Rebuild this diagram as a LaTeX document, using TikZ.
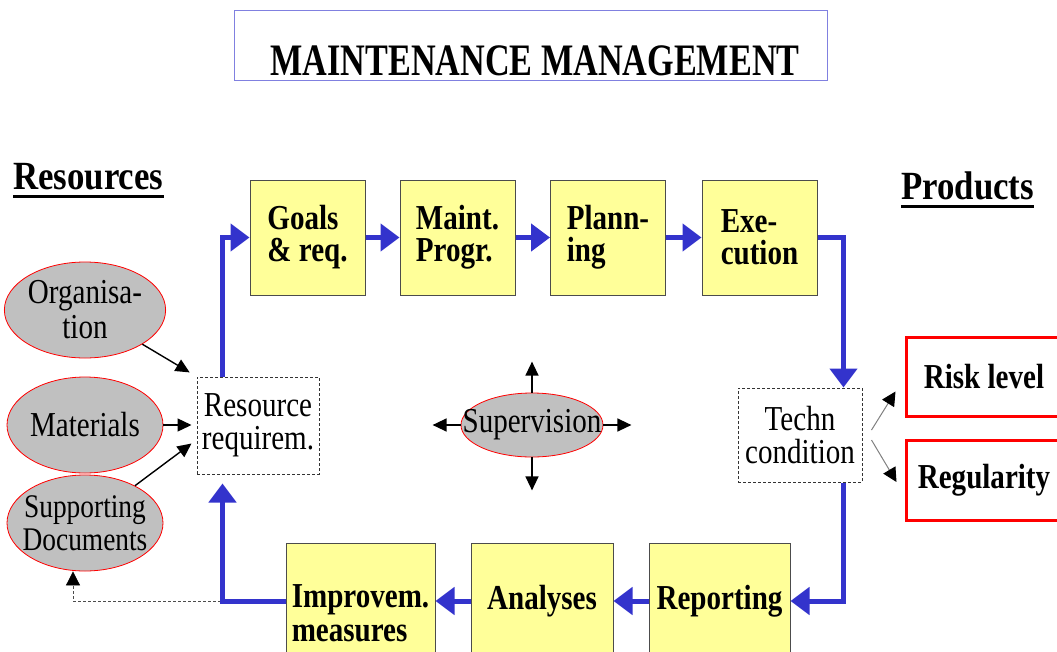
\documentclass[tikz,border=0pt]{standalone}
\usepackage{fontspec}
\setmainfont{Liberation Serif}[FakeStretch=0.83]
\newfontfamily\headfont{Liberation Serif}[FakeStretch=0.87]
\newfontfamily\titlefont{Liberation Serif}[FakeStretch=0.76]
\usepackage{xcolor}
\usepackage{tikz}
\usetikzlibrary{calc,arrows.meta,shapes.geometric}
\definecolor{boxyellow}{HTML}{FFFF99}
\definecolor{flowblue}{HTML}{3333CC}
\definecolor{resgray}{HTML}{C0C0C0}
\definecolor{titleblue}{HTML}{8080E0}

\begin{document}
\begin{tikzpicture}[x=1pt,y=-1pt,
  procbox/.style={draw=black!70,fill=boxyellow,line width=1pt,minimum width=115pt,minimum height=115pt,inner sep=2pt,align=left,font=\fontsize{35}{32}\selectfont\bfseries},
  resell/.style={ellipse,draw=red,fill=resgray,line width=0.8pt,minimum width=156pt,minimum height=96pt,inner sep=0pt,align=center,font=\fontsize{35}{35}\selectfont},
  dashbox/.style={draw=black!80,densely dashed,line width=1pt,inner sep=2pt,align=center,font=\fontsize{35}{33}\selectfont},
  prodbox/.style={draw=red,line width=3pt,fill=white,minimum width=156pt,align=left,font=\fontsize{35}{35}\selectfont\bfseries},
  headtext/.style={inner sep=0pt,font=\headfont\fontsize{40}{40}\selectfont\bfseries},
  flow/.style={draw=flowblue,line width=5pt,-{Triangle[length=19pt,width=27pt]}},
  feed/.style={draw=black,line width=1.4pt,-{Triangle[length=14pt,width=13pt]}},
  prodarrow/.style={draw=gray,line width=1pt,-{Triangle[length=14pt,width=14pt,color=black]}},
  docline/.style={draw=black!70,densely dashed,line width=0.8pt,-{Triangle[length=14pt,width=14pt,color=black]}}]
\useasboundingbox (0,0) rectangle (1057,651);
\clip (0,0) rectangle (1057,651);
%title
\node[draw=titleblue,line width=1pt,minimum width=593pt,minimum height=70pt,inner ysep=2pt,text height=60pt,text depth=0pt,font=\titlefont\fontsize{45}{45}\selectfont\bfseries] (title) at (531,45) {\hspace{8pt}MAINTENANCE MANAGEMENT};
%headings
\node[headtext,anchor=base west] (reshead) at (13,189) {Resources};
\node[headtext,anchor=base west] (prodhead) at (901,199) {Products};
\draw[line width=3pt] ([yshift=-7pt]reshead.base west) -- ([yshift=-7pt]reshead.base east);
\draw[line width=3pt] ([yshift=-7pt]prodhead.base west) -- ([yshift=-7pt]prodhead.base east);
%process
\node[procbox] (goals) at (307.5,237.5) {Goals\\\& req.};
\node[procbox] (maint) at (457.5,237.5) {Maint.\\Progr.};
\node[procbox] (plan) at (608,237.5) {Plann-\\ing};
\node[procbox] (exec) at (759.5,237.5) {Exe-\\cution};
\node[procbox,minimum width=141pt,anchor=north] (report) at (719.5,543) {Reporting};
\node[procbox,minimum width=142pt,anchor=north] (analys) at (542,543) {Analyses};
\node[procbox,minimum width=149pt,minimum height=140pt,anchor=north,font=\fontsize{35}{34}\selectfont\bfseries] (improv) at (360.5,543) {Improvem.\\measures};
%resources
\node[resell] (org) at (85,310) {Organisa-\\tion};
\node[resell] (mat) at (85,425) {Materials};
\node[resell,inner xsep=-8pt,font=\fontsize{33}{33}\selectfont] (supdoc) at (85,523) {Supporting\\Documents};
\node[dashbox,minimum width=122pt,minimum height=97pt] (resreq) at (258,425.5) {Resource\\requirem.};
%products
\node[dashbox,minimum width=124pt,minimum height=94pt] (techn) at (800,435) {Techn\\condition};
\node[prodbox,minimum height=79pt] (risk) at (984,376.5) {Risk level};
\node[prodbox,minimum height=80pt] (regul) at (984,480) {Regularity};
%supervision
\node[resell,minimum width=142pt,minimum height=64pt,inner xsep=-20pt] (superv) at (532,425) {Supervision};
\draw[feed] (superv.north) -- ++(0,-31);
\draw[feed] (superv.south) -- ++(0,33);
\draw[feed] (superv.west) -- ++(-28,0);
\draw[feed] (superv.east) -- ++(28,0);
%inputs
\draw[feed,shorten >=8pt] (org) -- (resreq.north west);
\draw[feed,shorten >=5pt] (mat) -- (mat -| resreq.west);
\draw[feed] (supdoc) -- ($(resreq.west)+(-5,18)$);
\draw[docline] (improv.west |- analys.west) -| ($(supdoc.south)+(-12,0)$);
%loop
\draw[flow] ($(resreq.north west)+(26,0)$) |- (goals.west);
\draw[flow] (goals) -- (maint);
\draw[flow] (maint) -- (plan);
\draw[flow] (plan) -- (exec);
\draw[flow] (exec.east) -| ($(techn.north east)+(-19,0)$);
\draw[flow] ($(techn.south east)+(-19,0)$) |- (report.east);
\draw[flow] (report) -- (analys);
\draw[flow] (analys) -- (improv.east |- analys.west);
\draw[flow] (improv.west |- analys.west) -| ($(resreq.south west)+(26,9)$);
%outputs
\draw[prodarrow] ($(techn.east)+(9,-5)$) -- ($(risk.south west)+(-9,-26)$);
\draw[prodarrow] ($(techn.east)+(9,5)$) -- ($(regul.west)+(-8,2)$);
\end{tikzpicture}
\end{document}
